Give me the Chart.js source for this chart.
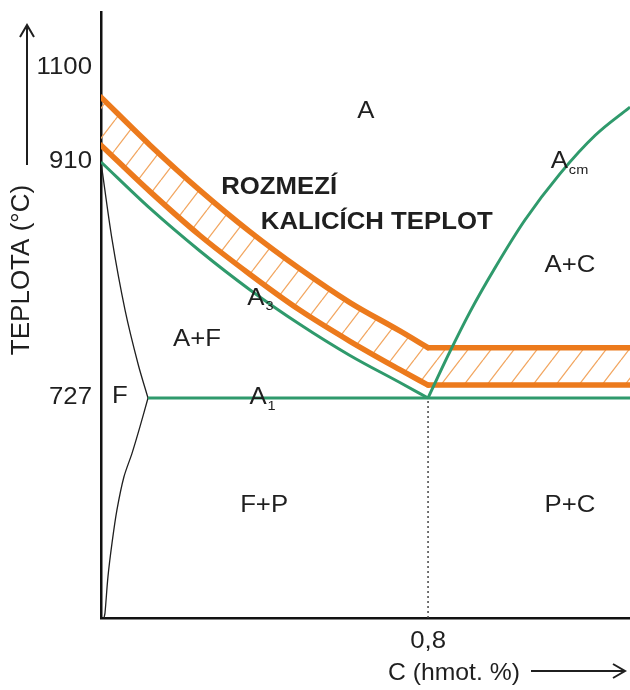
<!DOCTYPE html>
<html>
<head>
<meta charset="utf-8">
<script src="https://cdn.jsdelivr.net/npm/chart.js@4.4.1/dist/chart.umd.min.js"></script>
<style>
  html, body { margin: 0; padding: 0; background: #fff; }
  #wrap { width: 630px; height: 690px; }
</style>
</head>
<body>
<div id="wrap"><canvas id="c" width="630" height="690"></canvas></div>
<script>
// ---- Fe–Fe3C diagram, steel corner (carbon in wt. %, temperature in °C) ----
const carbonMax = 1.294;
const tempMax = 1213;
const tempTicks = [727, 910, 1100];
const tempTickLabels = ['727', '910', '1100'];
const carbonTicks = [0.8];
const carbonTickLabels = ['0,8'];

// A3 line (G–S)
const a3C = [0, 0.12, 0.242, 0.364, 0.487, 0.609, 0.731, 0.8];
const a3T = [910, 874, 841, 811, 784, 760, 739, 727];
// A1 eutectoid line (P–S–K)
const a1C = [0.115, 0.8, 1.294];
const a1T = [727, 727, 727];
// Acm line (S–E)
const acmC = [0.8, 0.849, 0.903, 0.964, 1.037, 1.123, 1.209, 1.294];
const acmT = [727, 760, 794, 828, 865, 901, 964, 1021];
// hardening temperature range, hypoeutectoid part: upper and lower bound
const hardTopC = [0, 0.12, 0.242, 0.364, 0.487, 0.609, 0.731, 0.8];
const hardTopT = [1041, 944, 888, 856, 827, 801, 779, 766];
const hardLowC = [0, 0.12, 0.242, 0.364, 0.487, 0.609, 0.731, 0.8];
const hardLowT = [944, 887, 853, 823, 795, 771, 749, 737];
// hardening temperature range, hypereutectoid part
const hardTopFlatC = [0.8, 1.294];
const hardTopFlatT = [766, 766];
const hardLowFlatC = [0.8, 1.294];
const hardLowFlatT = [737, 737];
// G–P line (start of ferrite formation)
const gpC = [0, 0.027, 0.059, 0.091, 0.115];
const gpT = [910, 850, 795, 753, 727];
// P–Q line (carbon solubility in ferrite)
const pqC = [0.115, 0.095, 0.076, 0.056, 0.039, 0.027, 0.017, 0.0098, 0.0073];
const pqT = [727, 631, 545, 466, 357, 248, 136, 17, 0];
// eutectoid composition marker
const eutC = [0.8, 0.8];
const eutT = [0, 727];

const zip = (cs, ts) => cs.map((c, i) => ({ x: c, y: ts[i] }));

// The temperature axis is schematic: each interval between the marked
// temperatures gets its own share of the axis height.
const tempStops = [0, 727, 910, 1100, tempMax];
const heightStops = [0, 0.363, 0.7525, 0.9076, 1];
function tempToShare(t) {
  for (let i = 1; i < tempStops.length; i++) {
    if (t <= tempStops[i] || i === tempStops.length - 1) {
      const f = (t - tempStops[i - 1]) / (tempStops[i] - tempStops[i - 1]);
      return heightStops[i - 1] + f * (heightStops[i] - heightStops[i - 1]);
    }
  }
  return 0;
}
function shareToTemp(s) {
  for (let i = 1; i < heightStops.length; i++) {
    if (s <= heightStops[i] || i === heightStops.length - 1) {
      const f = (s - heightStops[i - 1]) / (heightStops[i] - heightStops[i - 1]);
      return tempStops[i - 1] + f * (tempStops[i] - tempStops[i - 1]);
    }
  }
  return 0;
}
class SchematicScale extends Chart.LinearScale {
  getPixelForValue(value) {
    if (value === null || value === undefined || isNaN(value)) return NaN;
    return this.getPixelForDecimal(tempToShare(value));
  }
  getValueForPixel(pixel) {
    return shareToTemp(this.getDecimalForPixel(pixel));
  }
}
SchematicScale.id = 'schematic';
SchematicScale.defaults = Chart.LinearScale.defaults;
Chart.register(SchematicScale);

// diagonal hatching for the hardening band
function hatchPattern() {
  const w = 23, h = 30;
  const c = document.createElement('canvas');
  c.width = w; c.height = h;
  const g = c.getContext('2d');
  g.strokeStyle = '#f2a762';
  g.lineWidth = 1.3;
  g.beginPath();
  for (const dx of [-w, 0, w]) { g.moveTo(dx, h); g.lineTo(dx + w, 0); }
  g.stroke();
  return g.createPattern(c, 'repeat');
}

const ORANGE = '#ec7a1c';
const GREEN = '#2f9a6c';
const INK = '#1f1f1f';
const FONT = '"Liberation Sans", Arial, sans-serif';
const STRETCH = 1.12;

// phase-field labels, placed in diagram coordinates
const regionLabels = [
  { text: 'A', c: 0.648, t: 1011 },
  { text: 'A+C', c: 1.147, t: 830 },
  { text: 'A+F', c: 0.235, t: 772 },
  { text: 'F', c: 0.046, t: 728 },
  { text: 'F+P', c: 0.399, t: 370 },
  { text: 'P+C', c: 1.147, t: 370 }
];
const lineLabels = [
  { text: 'A', sub: 'cm', c: 1.100, t: 910 },
  { text: 'A', sub: '3', c: 0.358, t: 804 },
  { text: 'A', sub: '1', c: 0.363, t: 727 }
];
const bandCaption = [
  { text: 'ROZMEZÍ', c: 0.294, t: 890 },
  { text: 'KALICÍCH TEPLOT', c: 0.391, t: 863 }
];

const annotations = {
  id: 'annotations',
  afterDraw(chart) {
    const { ctx, scales: { x, y } } = chart;
    const put = (str, px, py, font, align, stretch = STRETCH) => {
      ctx.save();
      ctx.translate(px, py);
      ctx.scale(stretch, 1);
      ctx.font = font;
      ctx.fillStyle = INK;
      ctx.textAlign = align;
      ctx.textBaseline = 'middle';
      ctx.fillText(str, 0, 0);
      ctx.restore();
    };
    // tick labels
    tempTicks.forEach((t, i) => put(tempTickLabels[i], x.left - 9, y.getPixelForValue(t), '23px ' + FONT, 'right'));
    carbonTicks.forEach((c, i) => put(carbonTickLabels[i], x.getPixelForValue(c), y.bottom + 24, '23px ' + FONT, 'center'));

    regionLabels.forEach(l => put(l.text, x.getPixelForValue(l.c), y.getPixelForValue(l.t), '23px ' + FONT, 'center'));
    lineLabels.forEach(l => {
      const px = x.getPixelForValue(l.c), py = y.getPixelForValue(l.t);
      put(l.text, px, py, '23px ' + FONT, 'left');
      ctx.font = '23px ' + FONT;
      const w = ctx.measureText(l.text).width * STRETCH;
      put(l.sub, px + w + 1, py + 8, '13px ' + FONT, 'left');
    });
    bandCaption.forEach(l => put(l.text, x.getPixelForValue(l.c), y.getPixelForValue(l.t), 'bold 23px ' + FONT, 'left'));

    // axis titles with arrows
    put('C (hmot. %)', 454, 673, '24px ' + FONT, 'center', 1.03);
    ctx.save();
    ctx.fillStyle = INK;
    ctx.strokeStyle = INK;
    ctx.lineWidth = 2;
    ctx.beginPath();
    ctx.moveTo(531, 671); ctx.lineTo(625, 671);
    ctx.moveTo(613, 664); ctx.lineTo(625, 671); ctx.lineTo(613, 678);
    ctx.stroke();

    ctx.font = '26px ' + FONT;
    ctx.textBaseline = 'middle';
    ctx.textAlign = 'center';
    ctx.save();
    ctx.translate(22, 270);
    ctx.rotate(-Math.PI / 2);
    ctx.fillText('TEPLOTA (°C)', 0, 0);
    ctx.restore();
    ctx.beginPath();
    ctx.moveTo(27, 165); ctx.lineTo(27, 25);
    ctx.moveTo(20, 37); ctx.lineTo(27, 25); ctx.lineTo(34, 37);
    ctx.stroke();
    ctx.restore();
  }
};

const lineSet = (data, color, width, extra) => Object.assign({
  data, borderColor: color, borderWidth: width, pointRadius: 0, fill: false, tension: 0.35
}, extra || {});
const smooth = { cubicInterpolationMode: 'monotone' };
const band = (extra) => Object.assign({ borderCapStyle: 'round' }, extra);
const hatch = hatchPattern();

new Chart(document.getElementById('c'), {
  type: 'line',
  data: {
    datasets: [
      lineSet(zip(a3C, a3T), GREEN, 3, smooth),
      lineSet(zip(a1C, a1T), GREEN, 3, { tension: 0 }),
      lineSet(zip(acmC, acmT), GREEN, 3, smooth),
      lineSet(zip(hardTopC, hardTopT), ORANGE, 5.5, band(Object.assign({ fill: '+1', backgroundColor: hatch }, smooth))),
      lineSet(zip(hardLowC, hardLowT), ORANGE, 5.5, band(smooth)),
      lineSet(zip(hardTopFlatC, hardTopFlatT), ORANGE, 5.5, band({ tension: 0, fill: '+1', backgroundColor: hatch })),
      lineSet(zip(hardLowFlatC, hardLowFlatT), ORANGE, 5.5, band({ tension: 0 })),
      lineSet(zip(gpC, gpT), INK, 1.3, { tension: 0.3 }),
      lineSet(zip(pqC, pqT), INK, 1.3, { tension: 0.3 }),
      lineSet(zip(eutC, eutT), '#444', 1.5, { tension: 0, borderDash: [2, 3] })
    ]
  },
  options: {
    responsive: false,
    animation: false,
    devicePixelRatio: 1,
    layout: { padding: { top: 12, right: 0, bottom: 0, left: 0 } },
    plugins: {
      legend: { display: false },
      tooltip: { enabled: false },
      filler: { drawTime: 'beforeDatasetsDraw' }
    },
    scales: {
      x: {
        type: 'linear',
        min: 0,
        max: carbonMax,
        z: 1,
        offset: false,
        grid: { display: false, drawTicks: false },
        border: { display: true, color: '#111', width: 2.5 },
        ticks: { display: false },
        afterBuildTicks: (s) => { s.ticks = carbonTicks.map(v => ({ value: v })); },
        afterFit: (s) => { s.height = 72; s.paddingLeft = 0; s.paddingRight = 0; }
      },
      y: {
        type: 'schematic',
        min: 0,
        max: tempMax,
        bounds: 'data',
        z: 1,
        grid: { display: false, drawTicks: false },
        border: { display: true, color: '#111', width: 2.5 },
        ticks: { display: false },
        afterBuildTicks: (s) => { s.ticks = tempTicks.map(v => ({ value: v })); },
        afterFit: (s) => { s.width = 101; s.paddingTop = 0; s.paddingBottom = 0; }
      }
    }
  },
  plugins: [annotations]
});
</script>
</body>
</html>
